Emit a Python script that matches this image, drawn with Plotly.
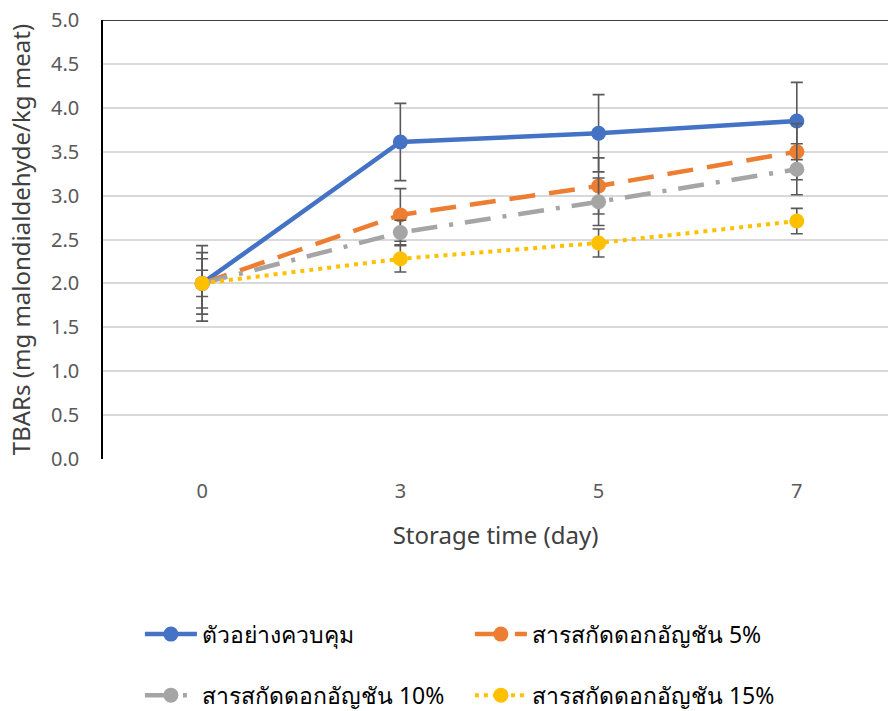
import plotly.graph_objects as go

days = ["0", "3", "5", "7"]
names = ["ตัวอย่างควบคุม", "สารสกัดดอกอัญชัน 5%", "สารสกัดดอกอัญชัน 10%", "สารสกัดดอกอัญชัน 15%"]
control = [2.00, 3.61, 3.71, 3.85]
ext5 = [2.00, 2.78, 3.11, 3.50]
ext10 = [2.00, 2.58, 2.93, 3.30]
ext15 = [2.00, 2.28, 2.46, 2.71]
err_control = [0.43, 0.44, 0.44, 0.44]
err5 = [0.35, 0.30, 0.32, 0.32]
err10 = [0.28, 0.14, 0.27, 0.29]
err15 = [0.15, 0.15, 0.16, 0.145]

series = [control, ext5, ext10, ext15]
errors = [err_control, err5, err10, err15]
colors = ["#4472C4", "#ED7D31", "#A5A5A5", "#FFC000"]
dashes = ["solid", "26px,14px", "26px,12px,4px,12px", "4px,5px"]
widths = [4.5, 4.5, 4.5, 4]
legends = ["legend", "legend", "legend2", "legend2"]

FONT = "Noto Sans, Tahoma, sans-serif"
fig = go.Figure()
for nm, ys, er, c, d, w, lg in zip(names, series, errors, colors, dashes, widths, legends):
    fig.add_trace(go.Scatter(
        x=days, y=ys, name=nm, mode="lines+markers",
        line=dict(color=c, width=w, dash=d),
        marker=dict(color=c, size=15, symbol="circle"),
        error_y=dict(type="data", array=er, visible=True, color="#595959", thickness=1.6, width=6),
        legend=lg,
    ))

fig.add_shape(type="line", xref="paper", yref="y", x0=0, x1=1, y0=5, y1=5,
              line=dict(color="black", width=1.5), layer="above")

leg_common = dict(orientation="h", xanchor="left", yanchor="middle",
                  entrywidth=263, entrywidthmode="pixels", itemwidth=52,
                  font=dict(family=FONT, size=23, color="#000000"), bgcolor="rgba(0,0,0,0)")

fig.update_layout(
    width=888, height=711,
    margin=dict(l=103, r=0, t=20, b=252, autoexpand=False),
    plot_bgcolor="white", paper_bgcolor="white",
    font=dict(family=FONT, color="#595959", size=20),
    showlegend=True,
    legend=dict(x=0.047, y=-0.399, **leg_common),
    legend2=dict(x=0.047, y=-0.538, **leg_common),
    xaxis=dict(type="category", categoryorder="array", categoryarray=days,
               range=[-0.5, 3.46], showgrid=False, zeroline=False, showline=False,
               ticks="", ticklabelstandoff=18, tickfont=dict(size=20, color="#595959"),
               title=dict(text="Storage time (day)", font=dict(size=24, color="#404040"), standoff=24)),
    yaxis=dict(range=[0, 5], dtick=0.5, tickformat=".1f", showgrid=True, gridcolor="#D9D9D9",
               gridwidth=1.5, zeroline=False, showline=True, linecolor="black", linewidth=1.5,
               ticks="", ticklabelstandoff=18, tickfont=dict(size=20, color="#595959"),
               title=dict(text="TBARs (mg malondialdehyde/kg meat)", font=dict(size=24, color="#404040"), standoff=14)),
)

fig.write_html("out.html")
